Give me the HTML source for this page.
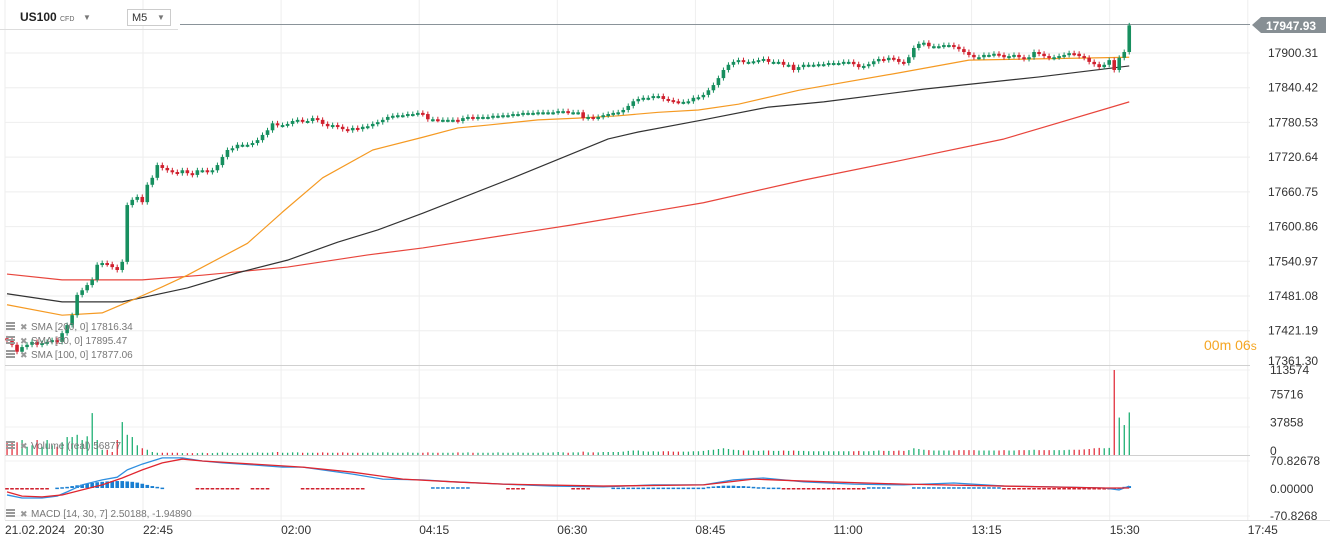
<!DOCTYPE html>
<html><head><meta charset="utf-8"><style>
body{margin:0;background:#fff;font-family:"Liberation Sans",sans-serif;}
#wrap{position:relative;width:1330px;height:547px;overflow:hidden;}
</style></head><body>
<div id="wrap">
<svg id="c" width="1330" height="547"></svg>
</div>
<script>
const closes=[17405,17397,17385,17393,17397,17402,17397,17400,17402,17405,17402,17417,
17431,17448,17483,17491,17500,17509,17535,17538,17536,17531,17526,17540,
17638,17647,17652,17643,17673,17685,17707,17702,17698,17695,17693,17698,
17693,17690,17698,17698,17695,17698,17707,17721,17733,17736,17742,17742,
17742,17745,17750,17759,17767,17779,17776,17776,17778,17783,17785,17783,
17783,17788,17785,17778,17774,17776,17773,17769,17767,17771,17769,17773,
17774,17778,17781,17785,17790,17792,17793,17793,17795,17795,17797,17795,
17786,17786,17785,17785,17785,17785,17783,17788,17790,17788,17790,17790,
17790,17792,17792,17793,17793,17795,17795,17797,17797,17797,17798,17798,
17798,17798,17800,17800,17798,17798,17798,17788,17790,17788,17790,17793,
17795,17797,17798,17802,17809,17817,17821,17823,17823,17826,17826,17821,
17819,17817,17816,17816,17817,17823,17824,17828,17836,17845,17857,17871,
17880,17885,17888,17885,17885,17886,17888,17890,17885,17885,17885,17880,
17880,17871,17876,17880,17880,17880,17881,17881,17883,17883,17883,17885,
17885,17881,17876,17878,17881,17886,17890,17888,17892,17890,17885,17883,
17893,17909,17916,17918,17912,17912,17912,17914,17914,17911,17907,17902,
17897,17893,17893,17897,17897,17899,17897,17893,17895,17897,17893,17890,
17893,17902,17899,17895,17892,17893,17895,17897,17900,17899,17895,17892,
17885,17881,17876,17880,17888,17871,17892,17902,17948];
const volumes=[17000,17000,17000,20000,11000,13000,20000,11000,20000,13000,11000,17000,
24000,24000,27000,20000,25000,56000,20000,7000,7000,4000,20000,44000,
27000,24000,13000,9000,7000,4000,3000,3000,3000,3000,3000,2500,
2500,2500,2500,3000,2500,2500,3000,3500,3000,2500,2500,3000,
3000,3000,3500,3000,3000,3500,4000,3000,3000,3500,3500,3000,
3000,3000,3000,3500,3000,3000,3000,3500,3000,3000,3000,3000,
3000,3500,3000,3500,3500,3000,3000,3000,3500,3000,3000,3000,
3500,3000,3000,3000,3000,3000,3500,3000,3500,3000,3000,3000,
3000,3000,3500,3000,3000,3000,3500,3000,3000,3000,3000,3500,
3000,3500,4000,3500,3000,3500,3500,4500,3500,3500,3500,4000,
4000,4000,4000,4500,5500,6000,6000,5000,4500,5000,4500,5000,
5000,4500,4500,4500,4500,5000,5000,5500,6500,7000,8000,9000,
8000,7000,6500,6000,6000,6000,5500,6000,6000,5500,5500,6000,
5500,6000,5500,5500,5000,5000,5000,5000,5000,5000,5000,5000,
5000,5000,5500,5000,5000,5500,6000,5500,5500,5500,6000,5500,
6500,9000,8000,7000,6500,6000,6000,6000,6000,6000,6500,6500,
6500,6500,6000,6000,6000,6000,6000,6500,6000,6000,6500,6500,
6500,7000,6500,6500,6500,6500,6500,6500,7000,7000,7000,7500,
8000,9000,9500,9000,9500,113574,50000,40000,56877];
const histogram=[-4,-4,-4,-4,-4,-4,-4,-1,-1,0,1,2,3,5,7,9,11,13,
15,16,17,18,18,18,17,16,14,11,8,5,3,1,0,0,0,0,0,0,
-3,-3,-3,-3,-3,-3,-3,-3,-3,0,0,-2,-2,-2,-2,0,0,0,0,0,0,
-3,-3,-3,-3,-3,-3,-3,-3,-3,-3,-3,-3,-3,0,0,0,0,0,0,0,0,0,0,0,0,0,
2,2,2,2,2,2,2,2,0,0,0,0,0,0,0,-1,-1,-1,-1,0,0,0,0,0,0,0,0,0,-1,-1,-1,-1,0,0,0,0,
1,1,1,1,1,1,1,1,1,1,1,1,1,1,1,1,1,1,1,
3,4,5,6,6,6,5,5,4,3,2,2,1,1,1,
-1,-1,-1,-1,-1,-1,-1,-1,-1,-1,-1,-1,-1,-1,-1,-1,-1,
2,2,2,2,2,0,0,0,0,
2,2,2,2,2,2,2,2,2,2,2,2,2,2,2,2,2,2,
-1,-1,-1,-1,-1,-1,-1,-1,-1,-1,-1,-1,-1,-1,-1,-1,-1,-1,
-2,-3,-4,-3,-2,1,3,5,7];
const sma200Idx=[0,11,27,39,56,72,83,113,139,159,179,199,224];
const sma200=[17519,17509,17509,17517,17531,17552,17564,17604,17642,17681,17716,17752,17816];
const sma100Idx=[0,11,23,36,46,56,66,74,83,101,120,126,139,152,163,183,206,224];
const sma100=[17485,17471,17471,17495,17521,17543,17574,17595,17624,17685,17752,17764,17785,17807,17816,17838,17859,17878];
const sma50Idx=[0,11,19,25,31,36,48,55,63,73,83,90,96,106,114,122,130,138,146,158,178,192,224];
const sma50=[17466,17448,17452,17474,17497,17517,17572,17626,17685,17733,17755,17771,17776,17785,17788,17792,17798,17802,17812,17836,17866,17888,17893];
const macdIdx=[0,3,7,10,12,15,19,22,24,27,29,31,35,39,43,49,55,59,69,75,83,89,99,109,119,129,139,145,151,159,169,179,189,199,209,219,222,224];
const macdLine=[-18,-26,-26,-21,-10,8,21,28,47,62,70,78,78,70,65,60,54,54,36,23,21,16,10,5,3,8,8,21,26,16,10,8,13,5,3,0,-5,5];
const signalIdx=[0,3,7,11,15,19,23,27,31,35,39,49,59,69,79,89,99,119,139,149,159,179,199,219,224];
const signalLine=[-10,-21,-23,-18,-5,8,26,47,65,75,70,62,54,41,23,16,10,5,8,23,18,10,5,0,0];
const priceTicks=[17900.31,17840.42,17780.53,17720.64,17660.75,17600.86,17540.97,17481.08,17421.19,17361.30];
const volTicks=[113574,75716,37858,0];
const timeLabels=["22:45","02:00","04:15","06:30","08:45","11:00","13:15","15:30","17:45"];

const NS="http://www.w3.org/2000/svg";
const svg=document.getElementById('c');
function el(t,a,p){const e=document.createElementNS(NS,t);for(const k in a)e.setAttribute(k,a[k]);(p||svg).appendChild(e);return e;}
const X=i=>7+i*5.01;
const Y=p=>53+(17900.31-p)*0.5797;
const VY=v=>455-v/113574*85;
const MY=m=>488-m*0.386;

const grid=el('g',{});


priceTicks.forEach(t=>{if(t>17370)el('line',{x1:5,x2:1250,y1:Y(t),y2:Y(t),stroke:'#eeeeee'},grid);});
[370,398,427].forEach(y=>el('line',{x1:5,x2:1250,y1:y,y2:y,stroke:'#f0f0f0'},grid));
[461,516].forEach(y=>el('line',{x1:5,x2:1250,y1:y,y2:y,stroke:'#f0f0f0'},grid));
for(let k=0;k<9;k++){const x=143+k*138.1;el('line',{x1:x,x2:x,y1:0,y2:520,stroke:'#eeeeee'},grid);}
el('line',{x1:5,x2:5,y1:0,y2:520,stroke:'#eeeeee'},grid);
el('line',{x1:5,x2:1250,y1:365.5,y2:365.5,stroke:'#d0d0d0'},grid);
el('line',{x1:5,x2:1250,y1:455.5,y2:455.5,stroke:'#d0d0d0'},grid);
el('line',{x1:5,x2:1330,y1:520.5,y2:520.5,stroke:'#e0e0e0'},grid);
el('line',{x1:180,x2:1250,y1:24.5,y2:24.5,stroke:'#8a9399'},grid);

function poly(idx,vals,fn,col,w,name){const l=el('polyline',{points:idx.map((i,k)=>X(i)+','+fn(vals[k])).join(' '),fill:'none',stroke:col,'stroke-width':w,'stroke-linejoin':'round'});}
poly(sma200Idx,sma200,Y,'#e8453c',1.2,'sma-200-line');
poly(sma100Idx,sma100,Y,'#333333',1.2,'sma-100-line');
poly(sma50Idx,sma50,Y,'#f59a23',1.2,'sma-50-line');

closes.forEach((c,i)=>{const o=i?closes[i-1]:c+3;const up=c>=o;const col=up?'#178f5f':'#d0212f';
 const g=el('g',{});
 
 
 const top=Y(Math.max(o,c)),bot=Y(Math.min(o,c));
 el('line',{x1:X(i),x2:X(i),y1:top-2.5,y2:bot+2.5,stroke:col,'stroke-width':1},g);
 el('rect',{x:X(i)-1.8,y:top,width:3.6,height:Math.max(2,bot-top),fill:col},g);
 const v=volumes[i];
 const vb=el('rect',{x:X(i)-0.6,y:VY(v),width:1.3,height:455-VY(v),fill:up?'#20b074':'#e2323f'});
 
 
 const h=histogram[i];
 if(h){const hb=el('rect',{x:X(i)-1.8,y:Math.min(MY(h),488),width:3.6,height:Math.max(1.5,Math.abs(MY(h)-488)),fill:h>=0?'#1a7fd1':'#d0212f'});
 
 }
});
poly(macdIdx,macdLine,MY,'#2f8fe0',1.3,'macd-line');
poly(signalIdx,signalLine,MY,'#e0262f',1.3,'signal-line');

function txt(x,y,s,opt,name,inter){const t=el('text',Object.assign({x:x,y:y,'font-size':12,fill:'#333','font-family':'Liberation Sans, sans-serif'},opt||{}));t.textContent=s;return t;}
priceTicks.forEach(t=>txt(1268,Math.min(Y(t),361)+4,t.toFixed(2),{},'price-tick-label'));
volTicks.forEach(v=>txt(1270,Math.max(VY(v),374),String(v),{},'volume-tick-label'));
txt(1270,465,'70.82678',{},'macd-tick-label');txt(1270,493,'0.00000',{},'macd-tick-label');txt(1270,520,'-70.8268',{},'macd-tick-label');
txt(5,534,'21.02.2024',{},'date-label');txt(74,534,'20:30',{},'time-label');
timeLabels.forEach((s,k)=>txt(143+k*138.1,534,s,{},'time-label'));
const tag=el('g',{});
el('polygon',{points:'1252,25 1261,17 1326,17 1326,33 1261,33',fill:'#878f94'},tag);
const tt=txt(1266,30,'17947.93',{fill:'#fff','font-weight':'bold'},'current-price-value');tag.appendChild(tt);
const tm=txt(1204,350,'00m ',{fill:'#f5a623','font-size':14},'candle-timer');
const s1=el('tspan',{},tm);s1.textContent='06';const s2=el('tspan',{'font-size':12},tm);s2.textContent='s';
function leg(y,s,name){const g=el('g',{});
 el('rect',{x:6,y:y-8,width:9,height:2,fill:'#999'},g);el('rect',{x:6,y:y-5,width:9,height:2,fill:'#999'},g);el('rect',{x:6,y:y-2,width:9,height:2,fill:'#999'},g);
 const t=txt(20,y,'✖',{fill:'#999','font-size':9},'remove-indicator-icon',true);g.appendChild(t);
 const t2=txt(31,y,s,{fill:'#777','font-size':10},'indicator-legend');g.appendChild(t2);}
leg(330,'SMA [200,  0] 17816.34','sma200-legend');
leg(344,'SMA [50,  0] 17895.47','sma50-legend');
leg(358,'SMA [100,  0] 17877.06','sma100-legend');
leg(449,'Volume  (real) 56877','volume-legend');
leg(517,'MACD [14, 30, 7] 2.50188,  -1.94890','macd-legend');
txt(20,21,'US100',{'font-weight':'bold','font-size':12,fill:'#222'},'symbol-name',true);
txt(60,21,'CFD',{'font-size':7,fill:'#666'},'symbol-type');
txt(83,20,'▼',{'font-size':8,fill:'#777'},'symbol-dropdown',true);
const tf=el('rect',{x:127.5,y:9.5,width:43,height:16,fill:'#fff',stroke:'#ccc'});
txt(132,21,'M5',{'font-size':11,fill:'#333'},'timeframe-value',true);
txt(157,20,'▼',{'font-size':8,fill:'#777'},'timeframe-dropdown',true);
el('line',{x1:0,x2:178,y1:29.5,y2:29.5,stroke:'#ddd'});
</script>
</body></html>
